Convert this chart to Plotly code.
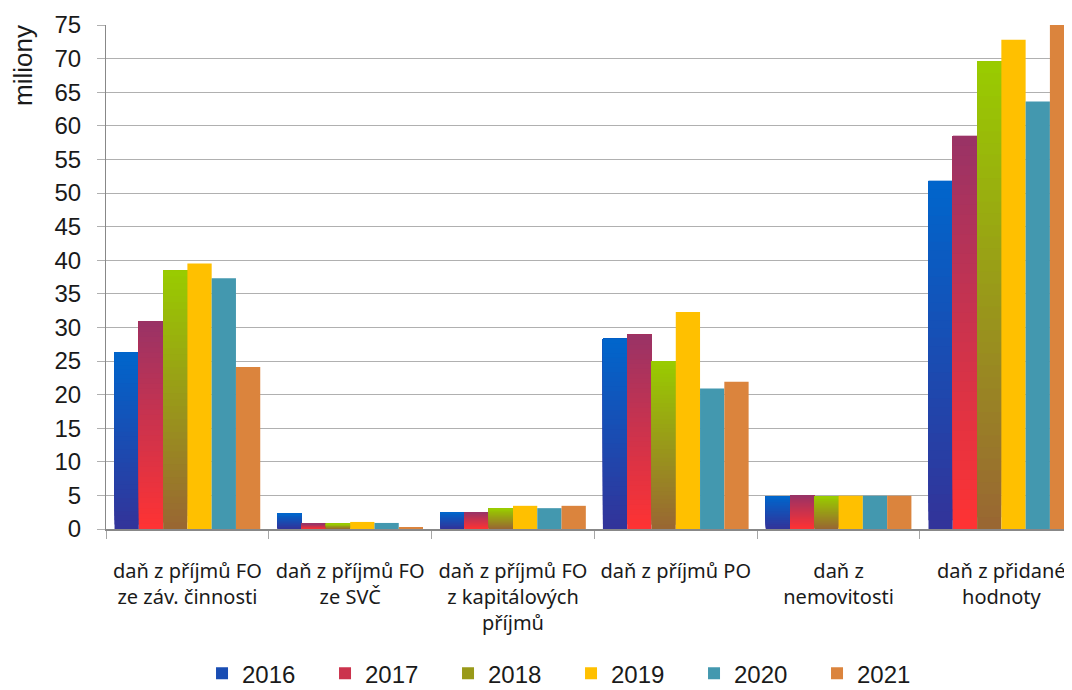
import plotly.graph_objects as go

categories = [
    "daň z příjmů FO<br>ze záv. činnosti",
    "daň z příjmů FO<br>ze SVČ",
    "daň z příjmů FO<br>z kapitálových<br>příjmů",
    "daň z příjmů PO",
    "daň z<br>nemovitosti",
    "daň z přidané<br>hodnoty",
]
years = ["2016", "2017", "2018", "2019", "2020", "2021"]

v2016 = [26.3, 2.3, 2.5, 28.3, 4.85, 51.8]
v2017 = [30.9, 0.75, 2.5, 28.9, 5.0, 58.5]
v2018 = [38.5, 0.75, 3.0, 25.0, 4.8, 69.6]
v2019 = [39.5, 1.05, 3.45, 32.3, 4.95, 72.8]
v2020 = [37.3, 0.9, 3.1, 20.9, 4.95, 63.6]
v2021 = [24.1, 0.15, 3.45, 21.9, 4.95, 75.5]
values = [v2016, v2017, v2018, v2019, v2020, v2021]

# (bottom colour, top colour) - solid series use the same colour twice
colors = [
    ("#333399", "#0066CC"),
    ("#FF3333", "#993366"),
    ("#996633", "#99CC00"),
    ("#FFC000", "#FFC000"),
    ("#4398AF", "#4398AF"),
    ("#DB843D", "#DB843D"),
]

FONT = "Liberation Sans, Arial, sans-serif"
N = 40


def hex_rgb(h):
    return tuple(int(h[i:i + 2], 16) for i in (1, 3, 5))


def mix(c0, c1, t):
    a, b = hex_rgb(c0), hex_rgb(c1)
    return "rgb(%d,%d,%d)" % tuple(round(a[i] + (b[i] - a[i]) * t) for i in range(3))


fig = go.Figure()
for year, vals, (c_bot, c_top) in zip(years, values, colors):
    if c_bot == c_top:
        fig.add_trace(go.Bar(
            x=categories, y=vals, name=year, offsetgroup=year, legendgroup=year,
            marker=dict(color=c_top, line_width=0), hoverinfo="skip",
        ))
        continue
    # vertical gradient: overlapping layers, each one runs from its start up to the top
    for k in range(N):
        fig.add_trace(go.Bar(
            x=categories,
            y=[v * (1 - k / N) for v in vals],
            base=[v * k / N for v in vals],
            name=year, offsetgroup=year, legendgroup=year,
            showlegend=(k == N // 2),
            marker=dict(color=mix(c_bot, c_top, (k + 0.5) / N), line_width=0),
            hoverinfo="skip",
        ))

# page body has an 8px default margin, so the figure is 8px smaller than the window
fig.update_layout(
    width=1064, height=682,
    margin=dict(l=98, r=0, t=17, b=161, autoexpand=False),
    paper_bgcolor="white", plot_bgcolor="white",
    barmode="group", bargap=0.105, bargroupgap=0,
    font=dict(family=FONT, size=22, color="#1a1a1a"),
    legend=dict(
        orientation="h", x=0.0994, xanchor="left", y=-0.287, yanchor="middle",
        entrywidth=78, font=dict(size=24, family=FONT),
        traceorder="normal",
    ),
    annotations=[dict(
        text="miliony", textangle=-90, xref="paper", yref="paper",
        x=-0.086, y=1.005, xanchor="center", yanchor="top",
        showarrow=False, font=dict(size=26, family=FONT),
    )],
)
fig.update_xaxes(
    range=[-0.5, 5.434], showline=True, linecolor="#888888", linewidth=1.5,
    ticks="outside", tickson="boundaries", ticklen=8, tickcolor="#A6A6A6",
    tickfont=dict(size=20, family="Noto Sans, sans-serif"),
    ticklabelstandoff=23, showgrid=False, automargin=False,
)
fig.update_yaxes(
    range=[0, 75], dtick=5, showline=True, linecolor="#888888", linewidth=1,
    showgrid=True, gridcolor="#B0B0B0", gridwidth=1,
    ticks="outside", ticklen=8, tickcolor="#B0B0B0",
    tickfont=dict(size=24, family=FONT), zeroline=False,
    ticklabelstandoff=11, automargin=False,
)

fig.write_html("out.html")
